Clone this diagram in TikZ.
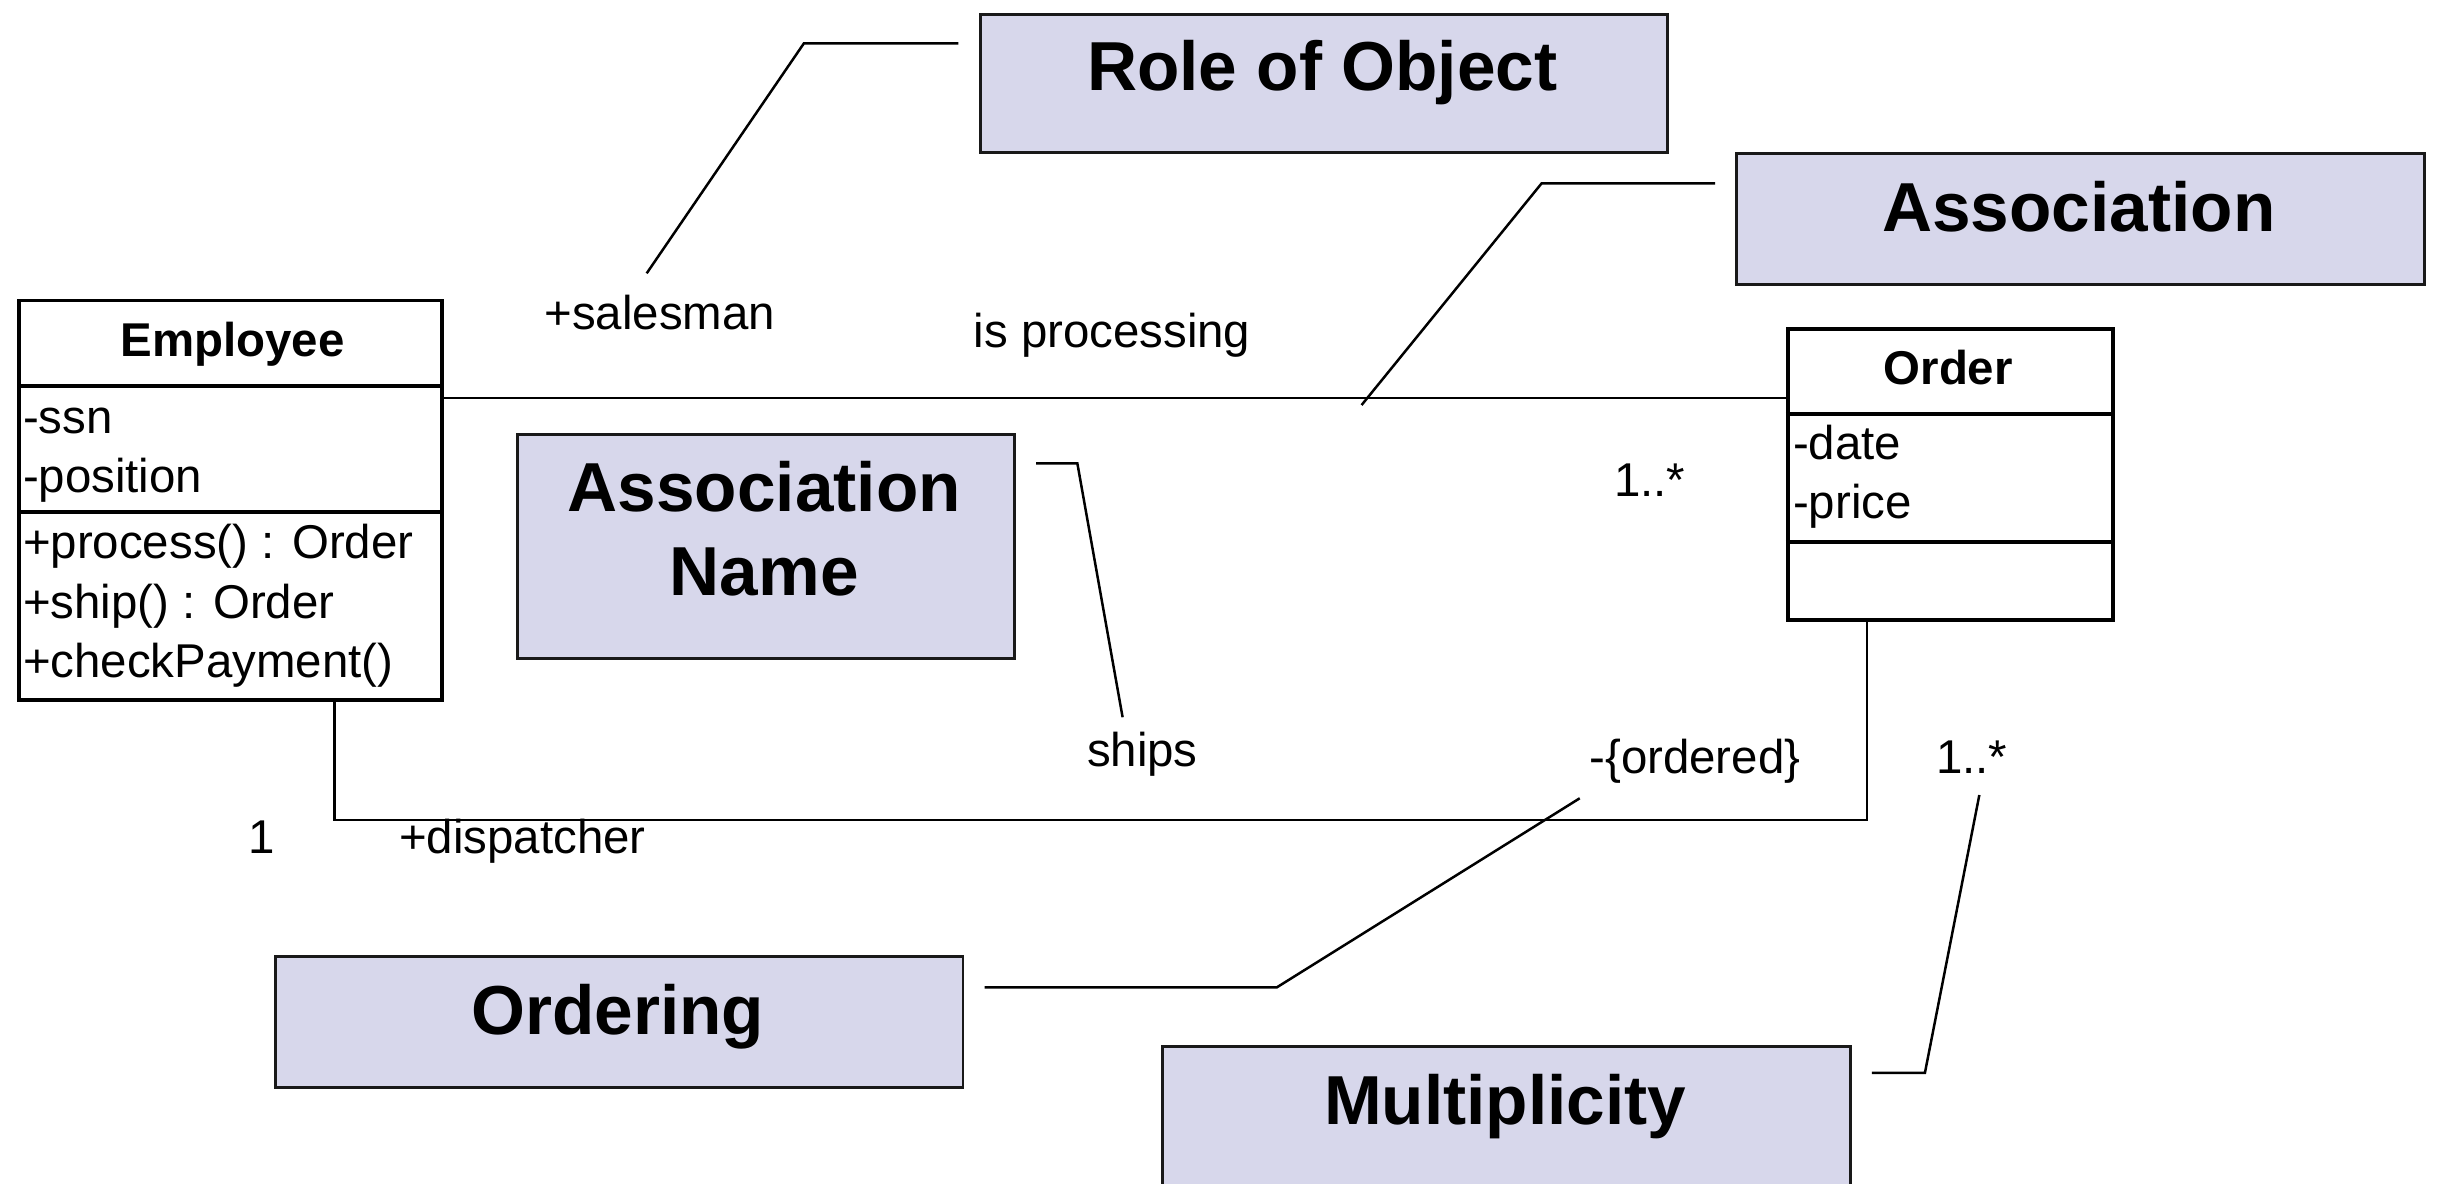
\documentclass[tikz,border=0pt]{standalone}
\usepackage{fontspec}
\setmainfont{Liberation Sans}
\usetikzlibrary{calc}
\definecolor{notefill}{RGB}{215,215,235}
\begin{document}
\begin{tikzpicture}[x=1pt,y=-1pt,
  classbox/.style={draw=black,line width=2.5pt,fill=white,inner sep=0pt,
    rectangle,anchor=north west},
  notebox/.style={draw=black!90,line width=1.9pt,fill=notefill,inner sep=0pt,
    rectangle,anchor=north west},
  notetext/.style={inner sep=0pt,anchor=base,
    font=\bfseries\fontsize{44.6}{50}\selectfont},
  txt/.style={inner sep=0pt,anchor=base west,font=\fontsize{30.5}{36}\selectfont},
  ctitle/.style={inner sep=0pt,anchor=base,font=\bfseries\fontsize{30.5}{36}\selectfont},
  divider/.style={line width=2.5pt},
  link/.style={line width=1.8pt},
  pointer/.style={line width=1.6pt,shorten <=13pt}]
\useasboundingbox (0,0) rectangle (1568,761);
\clip (0,0) rectangle (1568,761);

% ---- class Employee ----
\node[classbox,minimum width=272pt,minimum height=257pt] (emp) at (11,192) {};
\draw[divider] (11,248) -- (283,248);
\draw[divider] (11,329) -- (283,329);
\node[ctitle] (empname) at (149.5,229.5) {Employee};
\node[txt] (empa1) at (14.6,278.5) {-ssn};
\node[txt] (empa2) at (14.6,316.5) {-position};
\node[txt] (empm1) at (14.6,359) {+process() : Order};
\node[txt] (empm2) at (14.6,397.5) {+ship() : Order};
\node[txt] (empm3) at (14.6,435.5) {+checkPayment()};

% ---- class Order ----
\node[classbox,minimum width=209pt,minimum height=187.2pt] (ord) at (1148.6,210.3) {};
\draw[divider] (1148.6,266) -- (1357.8,266);
\draw[divider] (1148.6,348.6) -- (1357.8,348.6);
\node[ctitle] (ordname) at (1253,247.6) {Order};
\node[txt] (orda1) at (1153,295.8) {-date};
\node[txt] (orda2) at (1153,333.2) {-price};

% ---- associations ----
\coordinate (procY) at (700,256);
\draw[link] (emp.east |- procY) -- (ord.west |- procY);
\coordinate (shipL) at (215,527.4);
\coordinate (shipR) at (1200.7,527.4);
\draw[link] (emp.south -| shipL) -- (shipL) -- (shipR) -- (ord.south -| shipR);

\node[txt] (lsales) at (350,212.2) {+salesman};
\node[txt] (lproc) at (626,223.8) {is processing};
\node[txt] (lmult1) at (1038,319.4) {1..*};
\node[txt] (lships) at (698.9,493) {ships};
\node[txt] (lorder) at (1022,497.3) {-\{ordered\}};
\node[txt] (lmult2) at (1245,497.3) {1..*};
\node[txt] (lone) at (159.5,548.8) {1};
\node[txt] (ldisp) at (256.6,548.8) {+dispatcher};

% ---- explanatory notes ----
\node[notebox,minimum width=442.1pt,minimum height=88.9pt] (role) at (629.4,8.1) {};
\node[notetext] (roletxt) at (850.4,58.3) {Role of Object};

\node[notebox,minimum width=442.5pt,minimum height=84.3pt] (assoc) at (1116,97.5) {};
\node[notetext] (assoctxt) at (1337,149) {Association};

\node[notebox,minimum width=319.6pt,minimum height=144pt] (aname) at (331.9,278.3) {};
\node[notetext] (anametxt1) at (491.5,329) {Association};
\node[notetext] (anametxt2) at (491.5,382.7) {Name};

\node[notebox,minimum width=442.2pt,minimum height=84pt] (ordering) at (176.2,614.2) {};
\node[notetext] (orderingtxt) at (397.3,665.6) {Ordering};

\node[notebox,minimum width=442pt,minimum height=100pt] (multi) at (747,672) {};
\node[notetext] (multitxt) at (968,723) {Multiplicity};

% ---- pointers from notes to diagram elements ----
\coordinate (roleK) at (517,27.9);
\coordinate (roleT) at (415.9,175.8);
\draw[pointer] (role.west |- roleK) -- (roleK) -- (roleT);

\coordinate (assocK) at (991.5,117.9);
\coordinate (assocT) at (875.7,260.5);
\draw[pointer] (assoc.west |- assocK) -- (assocK) -- (assocT);

\coordinate (anameK) at (692.9,298);
\coordinate (anameT) at (722,461.3);
\draw[pointer] (aname.east |- anameK) -- (anameK) -- (anameT);

\coordinate (orderingK) at (821.2,635);
\coordinate (orderingT) at (1016,513.4);
\draw[pointer] (ordering.east |- orderingK) -- (orderingK) -- (orderingT);

\coordinate (multiK) at (1238,690);
\coordinate (multiT) at (1273,511.3);
\draw[pointer] (multi.east |- multiK) -- (multiK) -- (multiT);
\end{tikzpicture}
\end{document}
